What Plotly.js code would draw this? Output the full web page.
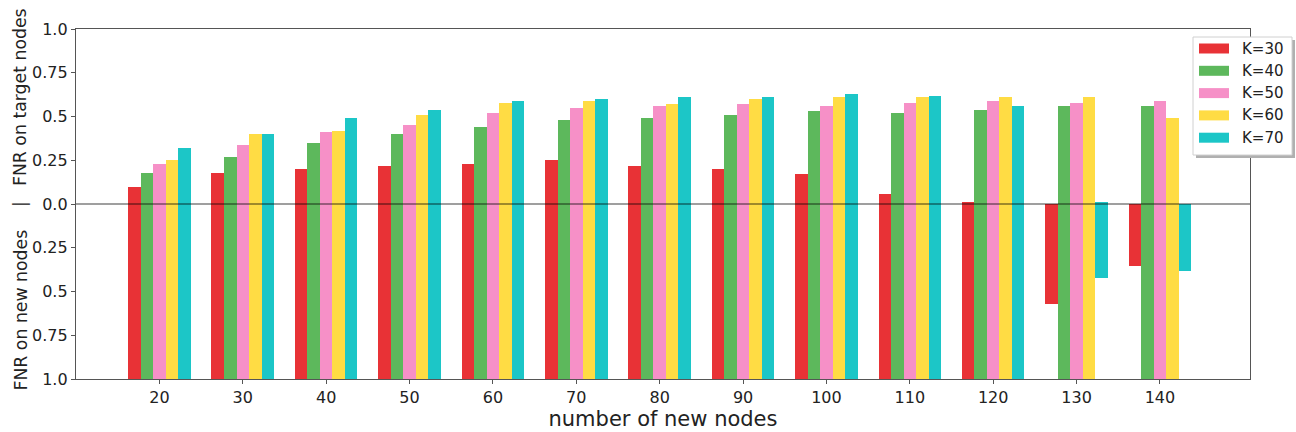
<!DOCTYPE html>
<html>
<head>
<meta charset="utf-8">
<script src="https://cdn.plot.ly/plotly-3.0.1.min.js"></script>
<style>body{margin:0;padding:0;background:#fff;}#chart{width:1296px;height:432px;}</style>
</head>
<body>
<div id="chart"></div>
<script>
const newNodes = [20, 30, 40, 50, 60, 70, 80, 90, 100, 110, 120, 130, 140];
const seriesNames = ['K=30', 'K=40', 'K=50', 'K=60', 'K=70'];
// FNR on target nodes (upper half)
const targetK30 = [0.10, 0.18, 0.20, 0.22, 0.23, 0.25, 0.22, 0.20, 0.17, 0.06, 0.01, 0.00, 0.00];
const targetK40 = [0.18, 0.27, 0.35, 0.40, 0.44, 0.48, 0.49, 0.51, 0.53, 0.52, 0.54, 0.56, 0.56];
const targetK50 = [0.23, 0.34, 0.41, 0.45, 0.52, 0.55, 0.56, 0.57, 0.56, 0.58, 0.59, 0.58, 0.59];
const targetK60 = [0.25, 0.40, 0.42, 0.51, 0.58, 0.59, 0.57, 0.60, 0.61, 0.61, 0.61, 0.61, 0.49];
const targetK70 = [0.32, 0.40, 0.49, 0.54, 0.59, 0.60, 0.61, 0.61, 0.63, 0.62, 0.56, 0.01, 0.00];
// FNR on new nodes (lower half, drawn downward)
const newK30 = [1.0, 1.0, 1.0, 1.0, 1.0, 1.0, 1.0, 1.0, 1.0, 1.0, 1.0, 0.57, 0.355];
const newK40 = [1.0, 1.0, 1.0, 1.0, 1.0, 1.0, 1.0, 1.0, 1.0, 1.0, 1.0, 1.0, 1.0];
const newK50 = [1.0, 1.0, 1.0, 1.0, 1.0, 1.0, 1.0, 1.0, 1.0, 1.0, 1.0, 1.0, 1.0];
const newK60 = [1.0, 1.0, 1.0, 1.0, 1.0, 1.0, 1.0, 1.0, 1.0, 1.0, 1.0, 1.0, 1.0];
const newK70 = [1.0, 1.0, 1.0, 1.0, 1.0, 1.0, 1.0, 1.0, 1.0, 1.0, 1.0, 0.425, 0.38];
const yTickVals = [-1, -0.75, -0.5, -0.25, 0, 0.25, 0.5, 0.75, 1];
const yTickText = ['1.0', '0.75', '0.5', '0.25', '0.0', '0.25', '0.5', '0.75', '1.0'];
const yTitleTop = 'FNR on target nodes';
const yTitleBottom = 'FNR on new nodes';
const xTitle = 'number of new nodes';

const colors = ['#e83236', '#5db85c', '#f690c7', '#ffdc44', '#1cc6c7'];
const targets = [targetK30, targetK40, targetK50, targetK60, targetK70];
const news = [newK30, newK40, newK50, newK60, newK70];
const barW = 1.5;

const traces = [];
targets.forEach((vals, i) => {
  traces.push({
    type: 'bar', x: newNodes, y: vals, name: seriesNames[i],
    width: barW, offset: -2.5 * barW + i * barW,
    marker: {color: colors[i], line: {width: 0}},
    showlegend: false, hoverinfo: 'skip'
  });
});
news.forEach((vals, i) => {
  traces.push({
    type: 'bar', x: newNodes, y: vals.map(v => -v), name: seriesNames[i],
    width: barW, offset: -2.5 * barW + i * barW,
    marker: {color: colors[i], line: {width: 0}},
    showlegend: false, hoverinfo: 'skip'
  });
});

// Plot-area geometry (pixels) used to place the custom legend box and y titles
const M = {l: 76, r: 46, t: 29, b: 53};
const W = 1296, H = 432;
const pw = W - M.l - M.r, ph = H - M.t - M.b;
const px = x => (x - M.l) / pw;
const py = y => (H - M.b - y) / ph;

const shapes = [
  {type: 'line', xref: 'paper', yref: 'y', x0: 0, x1: 1, y0: 0, y1: 0,
   line: {color: 'rgba(0,0,0,0.75)', width: 1.2}, layer: 'above'},
  // legend shadow and frame
  {type: 'rect', xref: 'paper', yref: 'paper', x0: px(1196), x1: px(1295), y0: py(158), y1: py(40),
   fillcolor: '#b0b0b0', line: {width: 0}, layer: 'above'},
  {type: 'rect', xref: 'paper', yref: 'paper', x0: px(1193), x1: px(1292), y0: py(155), y1: py(37),
   fillcolor: '#ffffff', line: {color: '#d0d0d0', width: 1}, layer: 'above'}
];
const annotations = [];
seriesNames.forEach((nm, i) => {
  const cy = 48.5 + i * 22.3;
  shapes.push({type: 'rect', xref: 'paper', yref: 'paper',
    x0: px(1199), x1: px(1229), y0: py(cy + 5), y1: py(cy - 5),
    fillcolor: colors[i], line: {width: 0}, layer: 'above'});
  annotations.push({xref: 'paper', yref: 'paper', x: px(1240), y: py(cy),
    xanchor: 'left', yanchor: 'middle', showarrow: false, text: nm,
    font: {size: 15, color: '#222', family: 'DejaVu Sans'}});
});
const yTitleFont = {size: 17.3, color: '#222', family: 'DejaVu Sans'};
annotations.push({xref: 'paper', yref: 'paper', x: px(20), y: py(187), xanchor: 'center', yanchor: 'bottom',
  textangle: -90, showarrow: false, text: yTitleTop, font: yTitleFont, borderpad: 0});
annotations.push({xref: 'paper', yref: 'paper', x: px(20), y: py(204), xanchor: 'center', yanchor: 'middle',
  textangle: -90, showarrow: false, text: '|', font: yTitleFont, borderpad: 0});
annotations.push({xref: 'paper', yref: 'paper', x: px(20), y: py(392), xanchor: 'center', yanchor: 'bottom',
  textangle: -90, showarrow: false, text: yTitleBottom, font: yTitleFont, borderpad: 0});

const layout = {
  width: W, height: H,
  margin: M,
  paper_bgcolor: '#fff', plot_bgcolor: '#fff',
  barmode: 'overlay',
  showlegend: false,
  font: {family: 'DejaVu Sans', color: '#222'},
  xaxis: {
    range: [10, 150.8], tickvals: newNodes, ticktext: newNodes.map(String),
    showgrid: false, zeroline: false, showline: true, mirror: true,
    linecolor: '#555', linewidth: 1.2, ticks: 'outside', ticklen: 4, tickcolor: '#555',
    tickfont: {size: 16, color: '#222'},
    title: {text: xTitle, font: {size: 21, color: '#222'}, standoff: 3}
  },
  yaxis: {
    range: [-1, 1], tickvals: yTickVals, ticktext: yTickText,
    showgrid: false, zeroline: false, showline: true, mirror: true,
    linecolor: '#555', linewidth: 1.2, ticks: 'outside', ticklen: 4, tickcolor: '#555',
    tickfont: {size: 16, color: '#222'}
  },
  shapes: shapes,
  annotations: annotations,
  bargap: 0
};

Plotly.newPlot('chart', traces, layout, {displayModeBar: false, staticPlot: true});
</script>
</body>
</html>
